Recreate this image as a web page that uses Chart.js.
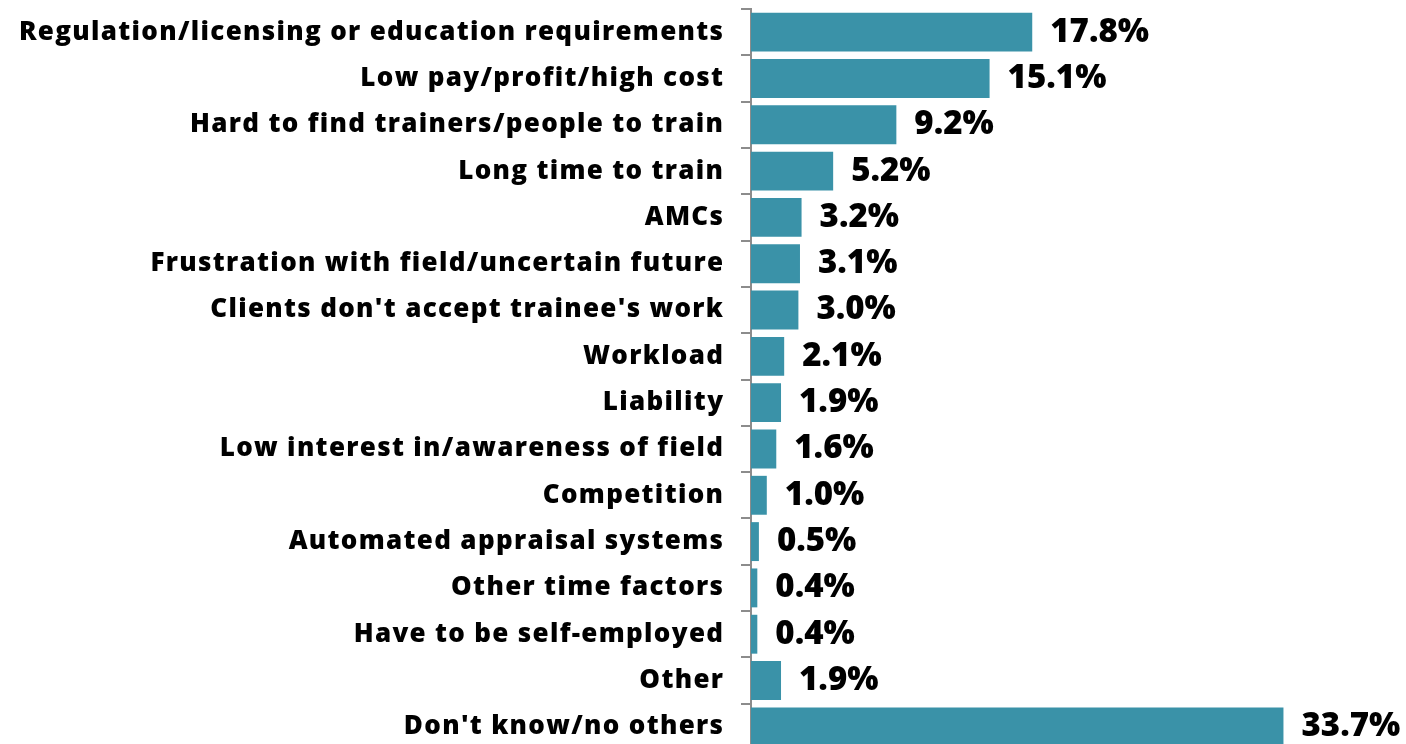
<!doctype html>
<html lang="en">
<head>
<meta charset="utf-8">
<title>Chart</title>
<script src="https://cdn.jsdelivr.net/npm/chart.js"></script>
<style>
  html, body { margin: 0; padding: 0; background: #fff; overflow: hidden; }
  #wrap { width: 1406px; height: 750px; position: relative; }
</style>
</head>
<body>
<div id="wrap"><canvas id="myChart"></canvas></div>
<script>
const categories = [
  'Regulation/licensing or education requirements',
  'Low pay/profit/high cost',
  'Hard to find trainers/people to train',
  'Long time to train',
  'AMCs',
  'Frustration with field/uncertain future',
  "Clients don't accept trainee's work",
  'Workload',
  'Liability',
  'Low interest in/awareness of field',
  'Competition',
  'Automated appraisal systems',
  'Other time factors',
  'Have to be self-employed',
  'Other',
  "Don't know/no others"
];
const shares = [17.8, 15.1, 9.2, 5.2, 3.2, 3.1, 3.0, 2.1, 1.9, 1.6, 1.0, 0.5, 0.4, 0.4, 1.9, 33.7];

const FONT = "'Open Sans', Lato, sans-serif";
const LABEL_SIZE = 26;
const LABEL_WEIGHT = 800;
const LONGEST_WIDTH = 704; // px width of the longest category label in the picture

// the original typeface is wider, so space the letters out a little to match
const measure = document.createElement('canvas').getContext('2d');
measure.font = LABEL_WEIGHT + ' ' + LABEL_SIZE + 'px ' + FONT;
const rawWidth = measure.measureText(categories[0]).width;
const labelSpacing = Math.max(0, (LONGEST_WIDTH - rawWidth) / (categories[0].length - 1));

const letterSpacing = {
  id: 'letterSpacing',
  beforeDraw(chart) { chart.ctx.letterSpacing = labelSpacing.toFixed(2) + 'px'; },
  afterDraw(chart) { chart.ctx.letterSpacing = '0px'; }
};

// draw the percent next to every bar
const valueLabels = {
  id: 'valueLabels',
  afterDatasetsDraw(chart) {
    const ctx = chart.ctx;
    const meta = chart.getDatasetMeta(0);
    ctx.save();
    ctx.letterSpacing = '0px';
    ctx.font = '800 33px ' + FONT;
    ctx.fillStyle = '#000';
    ctx.textBaseline = 'middle';
    ctx.textAlign = 'left';
    meta.data.forEach((bar, i) => {
      ctx.fillText(shares[i].toFixed(1) + '%', bar.x + 18, bar.y);
    });
    ctx.restore();
  }
};

new Chart(document.getElementById('myChart'), {
  type: 'bar',
  data: {
    labels: categories,
    datasets: [{
      data: shares,
      backgroundColor: '#3A92A8',
      barPercentage: 0.84,
      categoryPercentage: 1
    }]
  },
  options: {
    indexAxis: 'y',
    responsive: true,
    maintainAspectRatio: false,
    animation: false,
    layout: { padding: { top: 9, right: 23, bottom: 0, left: 0 } },
    plugins: { legend: { display: false }, tooltip: { enabled: false } },
    scales: {
      x: {
        display: false,
        min: 0,
        max: 40
      },
      y: {
        afterFit(scale) {
          scale.width = 751;
          scale.paddingTop = 0;
          scale.paddingBottom = 0;
        },
        border: { display: true, color: '#8c8c8c', width: 2 },
        grid: {
          display: true,
          offset: true,
          drawOnChartArea: false,
          drawTicks: true,
          tickLength: 10,
          color: '#8c8c8c',
          lineWidth: 2
        },
        ticks: {
          padding: 18 - labelSpacing,
          color: '#000',
          font: { family: FONT, size: LABEL_SIZE, weight: LABEL_WEIGHT }
        }
      }
    }
  },
  plugins: [letterSpacing, valueLabels]
});
</script>
</body>
</html>
